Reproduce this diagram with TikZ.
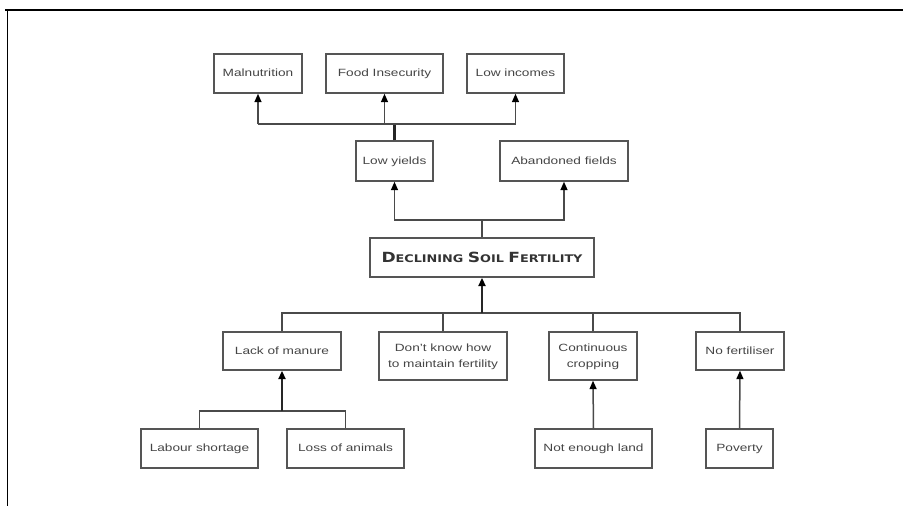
\documentclass[tikz,border=0pt]{standalone}
\usepackage{fontspec}
\usepackage{graphicx}
\setmainfont{Liberation Sans}
\newfontfamily\headfont{DejaVu Sans}
\usetikzlibrary{arrows.meta}

\definecolor{boxline}{HTML}{555555}
\definecolor{boxtext}{HTML}{454545}
\definecolor{linkline}{HTML}{4A4A4A}

% body text: slightly widened sans, one or two centred lines
\newcommand{\wtext}[1]{\scalebox{1.3}[1]{\begin{tabular}{@{}c@{}}#1\end{tabular}}}
% small-caps heading built from two sizes of a bold sans
\newcommand{\bigc}[1]{{\fontsize{14}{16}\selectfont #1}}
\newcommand{\coretitle}{\resizebox{201pt}{\height}{\headfont\bfseries\fontsize{10.5}{12}\selectfont
  \bigc{D}ECLINING \bigc{S}OIL \bigc{F}ERTILITY}}

\tikzset{
  box/.style={draw=boxline, line width=1.4pt, fill=white, inner sep=0pt,
    text=boxtext, font=\fontsize{10.5}{16}\selectfont, align=center},
  link/.style={draw=linkline, line width=1.5pt},
  strong/.style={draw=black!85, line width=2.2pt},
  tip/.style={-{Triangle[width=7pt,length=8.5pt,color=black]}}
}

\begin{document}
\begin{tikzpicture}[x=1pt, y=-1pt]
\useasboundingbox (0,0) rectangle (903,506);

% frame edges
\draw[black, line width=1.6pt] (5,10) -- (903,10);
\draw[black, line width=1.6pt] (7.5,10) -- (7.5,506);

% effects
\node[box, minimum width=88pt, minimum height=39pt] (mal)  at (258,73.5)   {\wtext{Malnutrition}};
\node[box, minimum width=117pt, minimum height=39pt] (food) at (384.5,73.5) {\wtext{Food Insecurity}};
\node[box, minimum width=97pt, minimum height=39pt] (inc)  at (515.5,73.5) {\wtext{Low incomes}};

\node[box, minimum width=77pt, minimum height=40pt] (lowy)  at (394.5,161) {\wtext{Low yields}};
\node[box, minimum width=128pt, minimum height=40pt] (aband) at (564,161)   {\wtext{Abandoned fields}};

% core problem
\node[box, minimum width=224pt, minimum height=39pt, text=black!80] (dsf) at (482,257.5) {\coretitle};

% causes
\node[box, minimum width=118pt, minimum height=38pt] (lack)   at (282,351)   {\wtext{Lack of manure}};
\node[box, minimum width=128pt, minimum height=48pt] (dont)   at (443,356)   {\wtext{Don’t know how\\to maintain fertility}};
\node[box, minimum width=88pt, minimum height=48pt]  (cont)   at (593,356)   {\wtext{Continuous\\cropping}};
\node[box, minimum width=88pt, minimum height=38pt]  (nofert) at (740,351)   {\wtext{No fertiliser}};

\node[box, minimum width=117pt, minimum height=39pt] (labour) at (199.5,448.5) {\wtext{Labour shortage}};
\node[box, minimum width=117pt, minimum height=39pt] (loss)   at (345.5,448.5) {\wtext{Loss of animals}};
\node[box, minimum width=117pt, minimum height=39pt] (land)   at (593.5,448.5) {\wtext{Not enough land}};
\node[box, minimum width=67pt, minimum height=39pt]  (pov)    at (739.5,448.5) {\wtext{Poverty}};

% branch points
\coordinate (topbar)  at (394.5,124);
\coordinate (midbar)  at (482,220);
\coordinate (lowbar)  at (482,313);
\coordinate (manbar)  at (282,411);

% low yields -> malnutrition, food insecurity, low incomes
\draw[strong] (lowy.north) -- (topbar);
\draw[link] (topbar) -| (258,124);
\draw[link] (topbar) -| (515.5,124);
\draw[link, tip] (258,124) -- (mal.south);
\draw[link, tip] (384.5,124) -- (food.south);
\draw[link, tip] (515.5,124) -- (inc.south);

% declining soil fertility -> low yields, abandoned fields
\draw[link] (dsf.north) -- (midbar);
\draw[link, tip] (midbar) -| (lowy.south);
\draw[link, tip] (midbar) -| (aband.south);

% causes -> declining soil fertility
\draw[link] (lack.north) |- (lowbar);
\draw[link] (nofert.north) |- (lowbar);
\draw[link] (dont.north) -- (dont.north |- lowbar);
\draw[link] (cont.north) -- (cont.north |- lowbar);
\draw[strong, tip] (lowbar) -- (dsf.south);

% root causes
\draw[link] (labour.north) |- (manbar);
\draw[link] (loss.north) |- (manbar);
\draw[strong, tip] (manbar) -- (lack.south);
\draw[link, tip] (land.north) -- (cont.south);
\draw[link, tip] (pov.north) -- (nofert.south);
\end{tikzpicture}
\end{document}
